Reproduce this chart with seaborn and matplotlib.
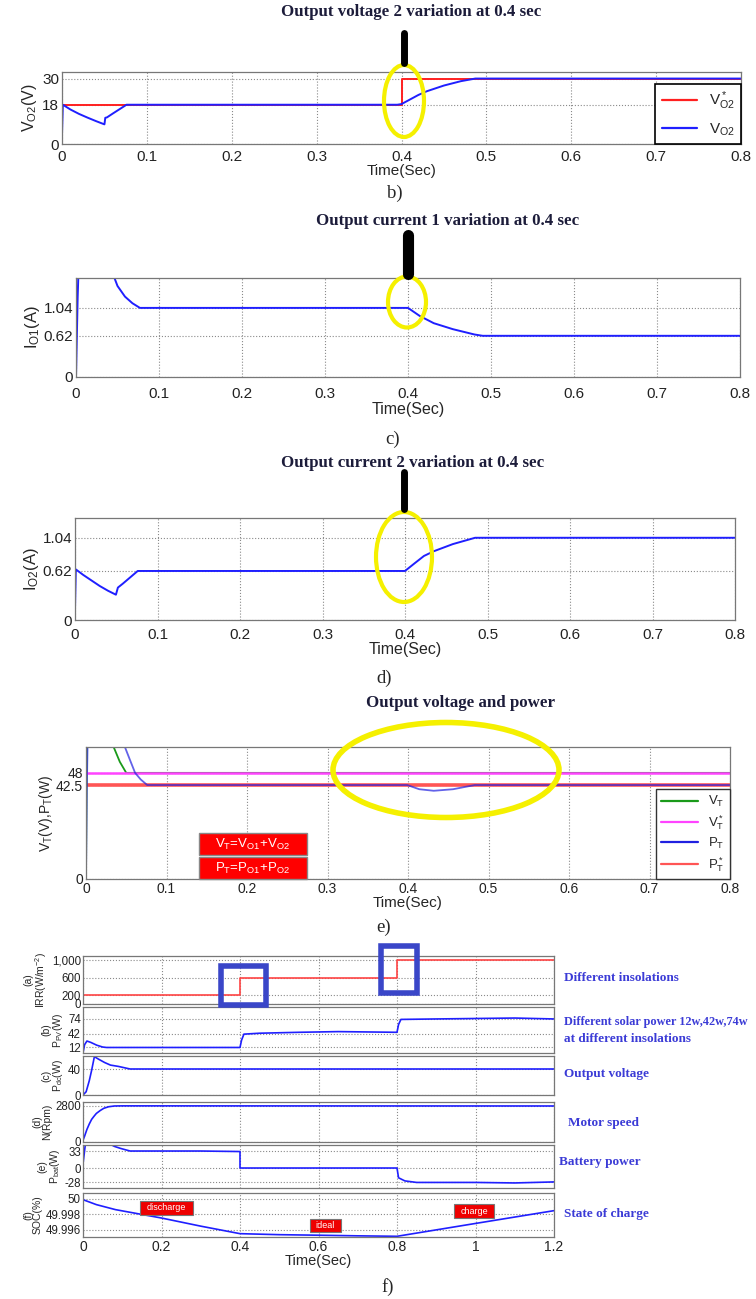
import numpy as np
import pandas as pd
import matplotlib
matplotlib.use("Agg")
import matplotlib.pyplot as plt
import seaborn as sns
from matplotlib.patches import Ellipse, Rectangle
from matplotlib.lines import Line2D

### Data

# b) output voltage 2
t_vref2 = [0, 0.4, 0.4, 0.8]
v_vref2 = [18, 18, 30, 30]
t_vo2 = [0, 0.001, 0.01, 0.02, 0.03, 0.04, 0.05, 0.051, 0.053, 0.06, 0.068, 0.076, 0.395,
         0.40, 0.41, 0.42, 0.43, 0.45, 0.47, 0.487, 0.8]
v_vo2 = [4.3, 18, 15.8, 13.8, 12.1, 10.5, 9, 12, 12.2, 14, 16, 18, 18,
         18.3, 20.4, 22.5, 24.2, 26.8, 28.8, 30, 30]

# c) output current 1
t_io1 = [0, 0.002, 0.003, 0.043, 0.05, 0.059, 0.068, 0.077, 0.4, 0.414, 0.431, 0.454, 0.48, 0.49, 0.8]
i_io1 = [0, 1.2, 1.6, 1.6, 1.37, 1.21, 1.11, 1.04, 1.04, 0.92, 0.81, 0.72, 0.64, 0.62, 0.62]

# d) output current 2
t_io2 = [0, 0.001, 0.01, 0.02, 0.03, 0.04, 0.0496, 0.052, 0.058, 0.067, 0.076, 0.4,
         0.412, 0.423, 0.435, 0.458, 0.485, 0.8]
i_io2 = [0.14, 0.64, 0.57, 0.5, 0.43, 0.37, 0.32, 0.41, 0.46, 0.54, 0.62, 0.62,
         0.72, 0.81, 0.87, 0.96, 1.04, 1.04]

# e) output voltage and power
t_ref = [0, 0.8]
v_vtref = [48, 48]
p_ptref = [42.5, 42.5]
t_vt = [0, 0.001, 0.034, 0.042, 0.050, 0.8]
v_vt = [0, 62, 60, 53, 48, 48]
t_pt = [0, 0.001, 0.002, 0.048, 0.055, 0.061, 0.068, 0.076, 0.399, 0.414, 0.432, 0.456, 0.483, 0.8]
p_pt = [0, 40, 62, 60, 53.5, 48, 45, 42.5, 42.5, 40.6, 39.9, 40.6, 42.5, 42.5]

# f) hybrid system
t_irr = [0, 0.4, 0.4, 0.8, 0.8, 1.2]
irr = [200, 200, 600, 600, 1000, 1000]
t_ppv = [0, 0.004, 0.01, 0.02, 0.035, 0.05, 0.06, 0.4, 0.404, 0.41, 0.45, 0.55, 0.65, 0.75,
         0.8, 0.804, 0.81, 0.9, 1.0, 1.1, 1.2]
ppv = [0, 18, 26, 23, 17, 13, 12, 12, 28, 41, 43, 45, 46.5, 45.5,
       45, 62, 73, 74, 75, 76, 74]
t_pdc = [0, 0.008, 0.016, 0.022, 0.029, 0.04, 0.055, 0.07, 0.09, 0.12, 1.2]
pdc = [0, 5, 22, 38, 59, 55, 50, 46, 44, 40, 40]
t_n = [0, 0.004, 0.01, 0.016, 0.022, 0.028, 0.034, 0.044, 0.053, 0.065, 0.08, 0.1, 1.2]
n_rpm = [140, 450, 980, 1400, 1760, 2000, 2220, 2450, 2620, 2740, 2800, 2810, 2800]
t_pbat = [0, 0.006, 0.07, 0.08, 0.096, 0.12, 0.2, 0.3, 0.4, 0.4, 0.8, 0.804, 0.82, 0.85, 1.0, 1.1, 1.2]
pbat = [8, 46, 46, 42, 38, 33, 33, 33, 32, 0, 0, -19, -25, -28, -28, -29, -27]
t_soc = [0, 0.034, 0.083, 0.2, 0.3, 0.4, 0.5, 0.6, 0.7, 0.8, 1.0, 1.2]
soc = [49.99987, 49.99923, 49.99858, 49.9975, 49.99645, 49.99548, 49.99535, 49.99528,
       49.9952, 49.99514, 49.9968, 49.99845]

ticks_08 = [0, 0.1, 0.2, 0.3, 0.4, 0.5, 0.6, 0.7, 0.8]
ticks_08_labels = ["0", "0.1", "0.2", "0.3", "0.4", "0.5", "0.6", "0.7", "0.8"]
ticks_12 = [0, 0.2, 0.4, 0.6, 0.8, 1.0, 1.2]
ticks_12_labels = ["0", "0.2", "0.4", "0.6", "0.8", "1", "1.2"]

### Style

sns.set_style("white")
plt.rcParams['font.family'] = ['Liberation Sans', 'DejaVu Sans']
plt.rcParams['mathtext.fontset'] = 'custom'
plt.rcParams['mathtext.rm'] = 'Liberation Sans'
plt.rcParams['mathtext.it'] = 'Liberation Sans'
plt.rcParams['mathtext.default'] = 'regular'

W, H = 756, 1299
fig = plt.figure(figsize=(W / 100, H / 100), dpi=100)

BLUE = "#1f1fff"
RED = "#ff2020"


def box(l, t, r, b):
    # axes from pixel edges
    return fig.add_axes([l / W, 1 - b / H, (r - l) / W, (b - t) / H])


def line(ax, t, v, **kw):
    sns.lineplot(x=t, y=v, ax=ax, estimator=None, sort=False, **kw)


def matlab_look(ax, fs=9, xpad=2):
    ax.grid(True, linestyle=':', color='#8a8a8a', linewidth=0.8)
    ax.tick_params(direction='in', length=3, labelsize=fs, pad=2, colors='#222222')
    ax.tick_params(axis='x', pad=xpad)
    for s in ax.spines.values():
        s.set_color('#777777')
        s.set_linewidth(0.9)


# Panel b
ax = box(62, 72, 741, 144)
line(ax, t_vref2, v_vref2, color=RED, linewidth=1.4)
line(ax, t_vo2, v_vo2, color=BLUE, linewidth=1.4)
ax.set_xlim(0, 0.8)
ax.set_ylim(0, 33)
ax.set_xticks(ticks_08)
ax.set_xticklabels(ticks_08_labels)
ax.set_yticks([0, 18, 30])
matlab_look(ax, 11, xpad=4.5)
ax.set_ylabel("V$_{O2}$(V)", fontsize=11.5, labelpad=2)
ax.set_xlabel("Time(Sec)", fontsize=11, labelpad=0)
leg = ax.legend([Line2D([], [], color=RED, lw=1.6), Line2D([], [], color=BLUE, lw=1.6)],
                ["V$^*_{O2}$", "V$_{O2}$"], loc='lower right', borderaxespad=0,
                fontsize=11, handlelength=2.3, labelspacing=0.6, fancybox=False, framealpha=1)
leg.get_frame().set_edgecolor('black')
leg.get_frame().set_linewidth(1.2)

# Panel c
ax = box(76, 278, 740, 377)
line(ax, t_io1, i_io1, color=BLUE, linewidth=1.4)
ax.set_xlim(0, 0.8)
ax.set_ylim(0, 1.49)
ax.set_xticks(ticks_08)
ax.set_xticklabels(ticks_08_labels)
ax.set_yticks([0, 0.62, 1.04])
ax.set_yticklabels(["0", "0.62", "1.04"])
matlab_look(ax, 11, xpad=7)
ax.set_ylabel("I$_{O1}$(A)", fontsize=12, labelpad=1)
ax.set_xlabel("Time(Sec)", fontsize=11.5, labelpad=1)

# Panel d
ax = box(75, 518, 735, 620)
line(ax, t_io2, i_io2, color=BLUE, linewidth=1.4)
ax.set_xlim(0, 0.8)
ax.set_ylim(0, 1.29)
ax.set_xticks(ticks_08)
ax.set_xticklabels(ticks_08_labels)
ax.set_yticks([0, 0.62, 1.04])
ax.set_yticklabels(["0", "0.62", "1.04"])
matlab_look(ax, 11, xpad=6)
ax.set_ylabel("I$_{O2}$(A)", fontsize=12, labelpad=1)
ax.set_xlabel("Time(Sec)", fontsize=11.5, labelpad=0)

# Panel e
ax = box(86, 747, 730, 879)
line(ax, t_ref, p_ptref, color="#ff5555", linewidth=2.6)
line(ax, t_vt, v_vt, color="#1a9a1a", linewidth=1.3)
line(ax, t_ref, v_vtref, color="#ff44ff", linewidth=1.8)
line(ax, t_pt, p_pt, color="#2020e0", linewidth=1.3, alpha=0.7)
ax.set_xlim(0, 0.8)
ax.set_ylim(0, 59.7)
ax.set_xticks(ticks_08)
ax.set_xticklabels(ticks_08_labels)
ax.set_yticks([0, 42.5, 48])
ax.set_yticklabels(["0", "42.5", "48"])
matlab_look(ax, 10, xpad=2)
ax.set_ylabel("V$_T$(V),P$_T$(W)", fontsize=10, labelpad=1)
ax.set_xlabel("Time(Sec)", fontsize=11, labelpad=0)
leg = ax.legend([Line2D([], [], color=c, lw=1.6) for c in ["#1a9a1a", "#ff44ff", "#2020e0", "#ff5555"]],
                ["V$_T$", "V$^*_T$", "P$_T$", "P$^*_T$"], loc='lower right', borderaxespad=0,
                fontsize=9.5, handlelength=2.8, labelspacing=0.3, fancybox=False, framealpha=1)
leg.get_frame().set_edgecolor('#333333')
leg.get_frame().set_linewidth(1.0)

# Panel f: six stacked axes
f_rows = [
    (956, 1004, t_irr, irr, "#ff4444", (0, 1090), [0, 200, 600, 1000], ["0", "200", "600", "1,000"],
     "(a)\nIRR(W/m$^{-2}$)"),
    (1007, 1053, t_ppv, ppv, BLUE, (0, 100), [12, 42, 74], ["12", "42", "74"], "(b)\nP$_{PV}$(W)"),
    (1056, 1095, t_pdc, pdc, BLUE, (0, 60), [0, 40], ["0", "40"], "(c)\nP$_{dc}$(W)"),
    (1102, 1142, t_n, n_rpm, BLUE, (0, 3110), [0, 2800], ["0", "2800"], "(d)\nN(Rpm)"),
    (1145, 1188, t_pbat, pbat, BLUE, (-38.8, 44.7), [-28, 0, 33], ["-28", "0", "33"], "(e)\nP$_{bat}$(W)"),
    (1193, 1237, t_soc, soc, BLUE, (49.99505, 50.00073), [49.996, 49.998, 50.0],
     ["49.996", "49.998", "50"], "(f)\nSOC(%)"),
]
f_axes = []
for top, bot, tt, vv, col, ylim, yt, ytl, ylab in f_rows:
    ax = box(83, top, 554, bot)
    line(ax, tt, vv, color=col, linewidth=1.2)
    ax.set_xlim(0, 1.2)
    ax.set_ylim(*ylim)
    ax.set_xticks(ticks_12)
    ax.set_yticks(yt)
    ax.set_yticklabels(ytl)
    matlab_look(ax, 10, xpad=2)
    ax.tick_params(axis='y', labelsize=8.3, pad=1.5)
    ax.set_ylabel(ylab, fontsize=7.5, labelpad=2, linespacing=1.0)
    f_axes.append(ax)
for ax in f_axes[:-1]:
    ax.set_xticklabels([])
f_axes[-1].set_xticklabels(ticks_12_labels)
f_axes[-1].set_xlabel("Time(Sec)", fontsize=10.5, labelpad=0)

### Overlay: titles, captions, highlights
ov = fig.add_axes([0, 0, 1, 1], zorder=10)
ov.set_xlim(0, W)
ov.set_ylim(H, 0)
ov.axis('off')
ov.patch.set_alpha(0)

serif = ['Liberation Serif', 'DejaVu Serif']
titles = [(411, 12, "Output voltage 2 variation at 0.4 sec"),
          (448, 221, "Output current 1 variation at 0.4 sec"),
          (413, 463, "Output current 2 variation at 0.4 sec"),
          (461, 703, "Output voltage and power")]
for x, y, s in titles:
    ov.text(x, y, s, ha='center', va='center', fontsize=12.2, fontweight='bold',
            color='#1c1c3a', family=serif)

captions = [(395, 193, "b)"), (393, 439, "c)"), (384, 678, "d)"), (384, 927, "e)"), (388, 1287, "f)")]
for x, y, s in captions:
    ov.text(x, y, s, ha='center', va='center', fontsize=13.5, family=serif)

# black markers above the 0.4 s step
for x, y0, y1, lw in [(404, 33, 63, 5), (408, 235, 274, 8), (404, 472, 509, 5)]:
    ov.plot([x, x], [y0, y1], color='black', lw=lw, solid_capstyle='round')

# yellow highlight ellipses
for cx, cy, w, h, lw in [(404, 101, 40, 72, 3), (407, 302, 38, 51, 3),
                         (404, 557, 56, 90, 3), (446, 770, 226, 95, 4)]:
    ov.add_patch(Ellipse((cx, cy), w, h, fill=False, edgecolor='#f5f000', lw=lw))

# red formula boxes in panel e
for y0, y1, s in [(833, 855, "V$_T$=V$_{O1}$+V$_{O2}$"), (857, 879, "P$_T$=P$_{O1}$+P$_{O2}$")]:
    ov.add_patch(Rectangle((199, y0), 108, y1 - y0, facecolor='#ff0000', edgecolor='#888888', lw=1))
    ov.text(253, (y0 + y1) / 2, s, ha='center', va='center', color='white', fontsize=9.5)

# blue squares around irradiance steps
for x0, y0, x1, y1 in [(221, 966, 266, 1005), (381, 946, 417, 993)]:
    ov.add_patch(Rectangle((x0, y0), x1 - x0, y1 - y0, fill=False, edgecolor='#3a46c8', lw=4))

# SOC state labels
for x0, y0, x1, y1, s in [(140, 1201, 193, 1215, "discharge"), (310, 1219, 341, 1232, "ideal"),
                          (454, 1204, 494, 1218, "charge")]:
    ov.add_patch(Rectangle((x0, y0), x1 - x0, y1 - y0, facecolor='#ee0000', edgecolor='#777777', lw=0.8))
    ov.text((x0 + x1) / 2, (y0 + y1) / 2, s, ha='center', va='center', color='white', fontsize=6.5)

# right-side descriptions in panel f
side = [(564, 978, "Different insolations", 9.5),
        (564, 1022, "Different solar power 12w,42w,74w", 8.8),
        (564, 1039, "at different insolations", 9.5),
        (564, 1074, "Output voltage", 9.5),
        (568, 1123, "Motor speed", 9.5),
        (559, 1162, "Battery power", 9.5),
        (564, 1214, "State of charge", 9.5)]
for x, y, s, fs in side:
    ov.text(x, y, s, ha='left', va='center', color='#3b3bd6', fontsize=fs, fontweight='bold', family=serif)

fig.savefig("out.png", dpi=100)
